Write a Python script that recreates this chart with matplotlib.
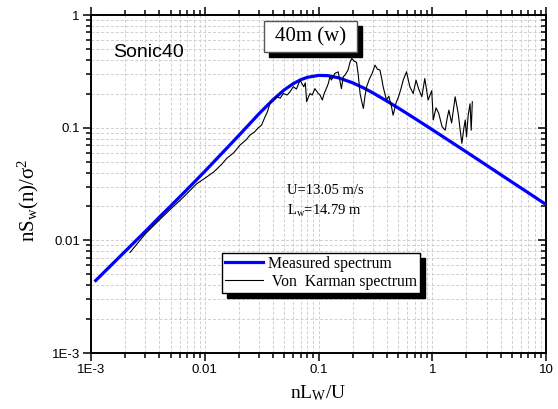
import numpy as np
import matplotlib
matplotlib.use("Agg")
import matplotlib.pyplot as plt
from matplotlib.patches import Rectangle
from matplotlib.ticker import FixedLocator, NullFormatter

# smooth (blue) spectrum
blue_x = [0.0011, 0.0015, 0.002, 0.003, 0.004, 0.005, 0.007, 0.01, 0.02, 0.03,
          0.04, 0.05, 0.06, 0.07, 0.08, 0.1, 0.12, 0.15, 0.2, 0.25, 0.3, 0.4,
          0.5, 0.7, 1.0, 1.5, 2.0, 3.0, 5.0, 7.0, 10.0]
blue_y = [0.0044, 0.0060, 0.0080, 0.0120, 0.0161, 0.0201, 0.0283, 0.0409, 0.0856, 0.133,
          0.178, 0.2165, 0.246, 0.267, 0.280, 0.291, 0.290, 0.277, 0.250, 0.225, 0.204, 0.172,
          0.150, 0.121, 0.096, 0.0735, 0.0608, 0.0464, 0.0330, 0.0264, 0.0208]

# noisy (black) spectrum
black_x = [0.0022, 0.0030, 0.0040, 0.0050, 0.0065, 0.0085, 0.0100, 0.0120, 0.0140, 0.0156,
           0.0180, 0.0204, 0.0230, 0.0250, 0.0275, 0.0296, 0.0315, 0.0339, 0.0355, 0.0375,
           0.0400, 0.0429, 0.0460, 0.0491, 0.0530, 0.0561, 0.0600, 0.0640, 0.0687, 0.0742,
           0.0765, 0.0787, 0.0820, 0.0844, 0.0880, 0.0930, 0.0995, 0.1030, 0.1080, 0.1120,
           0.1190, 0.1220, 0.1260, 0.1300, 0.1390, 0.1490, 0.1590, 0.1650, 0.1710, 0.1820,
           0.1890, 0.1960, 0.2050, 0.2160, 0.2240, 0.2320, 0.2400, 0.2480, 0.2560, 0.2650,
           0.2800, 0.2950, 0.3140, 0.3300, 0.3470, 0.3600, 0.3700, 0.3960, 0.4150, 0.4380,
           0.4530, 0.4800, 0.5050, 0.5300, 0.5550, 0.5940, 0.6350, 0.6800, 0.7200, 0.7600,
           0.8100, 0.8600, 0.9200, 0.9900, 1.0200, 1.0800, 1.1400, 1.2200, 1.3000, 1.3500,
           1.4000, 1.4800, 1.5900, 1.6900, 1.7500, 1.8200, 1.9000, 1.9500, 2.0000, 2.0700,
           2.1500, 2.2000, 2.2500]
black_y = [0.0078, 0.0114, 0.0152, 0.0189, 0.0242, 0.0318, 0.0355, 0.0405, 0.0470, 0.0534,
           0.0600, 0.0700, 0.0777, 0.0860, 0.0920, 0.1000, 0.1050, 0.1250, 0.1380, 0.1650,
           0.1720, 0.1880, 0.1830, 0.2010, 0.1950, 0.2080, 0.2310, 0.2200, 0.2640, 0.2310,
           0.2500, 0.1700, 0.1900, 0.2010, 0.1950, 0.2220, 0.2010, 0.1950, 0.1760, 0.2000,
           0.2310, 0.2470, 0.2830, 0.2650, 0.3030, 0.3130, 0.2220, 0.2830, 0.2930, 0.3250,
           0.3800, 0.4120, 0.3900, 0.3800, 0.2900, 0.2010, 0.1700, 0.1480, 0.1900, 0.2310,
           0.2700, 0.3000, 0.3590, 0.3300, 0.3250, 0.2700, 0.2310, 0.1760, 0.1900, 0.1540,
           0.1290, 0.1650, 0.1880, 0.2200, 0.2640, 0.3130, 0.2310, 0.2010, 0.2640, 0.2200,
           0.1880, 0.2730, 0.1760, 0.2130, 0.1170, 0.1500, 0.1340, 0.1020, 0.0950, 0.1200,
           0.1430, 0.1100, 0.1880, 0.1340, 0.1000, 0.0726, 0.1000, 0.1170, 0.0830, 0.1300,
           0.1630, 0.0950, 0.1700]

x_ticks = [1e-3, 1e-2, 1e-1, 1, 10]
x_ticklabels = ["1E-3", "0.01", "0.1", "1", "10"]
y_ticks = [1e-3, 1e-2, 1e-1, 1]
y_ticklabels = ["1E-3", "0.01", "0.1", "1"]

SERIF = "Liberation Serif"
SANS = "Liberation Sans"
plt.rcParams['mathtext.default'] = 'regular'

fig = plt.figure(figsize=(5.58, 4.09), dpi=100)
ax = fig.add_axes([0.1631, 0.1369, 0.8154, 0.8264])

ax.plot(blue_x, blue_y, color="#0000ff", lw=2.3, label="Measured spectrum", zorder=3)
ax.plot(black_x, black_y, color="k", lw=0.8, label=" Von  Karman spectrum", zorder=4)

ax.set_xscale("log")
ax.set_yscale("log")
ax.set_xlim(1e-3, 10)
ax.set_ylim(1e-3, 1)

ax.xaxis.set_major_locator(FixedLocator(x_ticks))
ax.set_xticklabels(x_ticklabels, fontfamily=SANS, fontsize=9.5)
ax.yaxis.set_major_locator(FixedLocator(y_ticks))
ax.set_yticklabels(y_ticklabels, fontfamily=SANS, fontsize=9.5)
minors_x = [m * 10.0 ** e for e in range(-3, 1) for m in range(2, 10)]
minors_y = [m * 10.0 ** e for e in range(-3, 0) for m in range(2, 10)]
ax.xaxis.set_minor_locator(FixedLocator(minors_x))
ax.yaxis.set_minor_locator(FixedLocator(minors_y))
ax.xaxis.set_minor_formatter(NullFormatter())
ax.yaxis.set_minor_formatter(NullFormatter())

ax.grid(which="both", ls=(0, (3, 2)), color="#cfcfcf", lw=0.7)
ax.set_axisbelow(True)

for s in ax.spines.values():
    s.set_linewidth(1.4)
ax.tick_params(which="both", top=True, direction="out", width=1.1, pad=2)
ax.tick_params(which="major", length=6)
ax.tick_params(which="minor", length=3.5)
ax.tick_params(which="both", right=True, labelright=False)

# right axis ticks point inward
for t in ax.yaxis.get_major_ticks() + ax.yaxis.get_minor_ticks():
    t.tick2line.set_marker(matplotlib.lines.TICKLEFT)

fig.text(318 / 558, 1 - 393 / 409, r"nL$_{W}$/U", fontfamily=SERIF, fontsize=14,
         ha="center", va="center")
fig.text(28 / 558, 1 - 200 / 409, r"nS$_{w}$(n)/$\sigma^{2}$", fontfamily=SERIF,
         fontsize=15, ha="center", va="center", rotation=90)

ax.text(0.048, 0.89, "Sonic40", transform=ax.transAxes, fontfamily=SANS,
        fontsize=14, ha="left", va="center")

ax.text(0.431, 0.482, "U=13.05 m/s", transform=ax.transAxes, fontfamily=SERIF,
        fontsize=10.5, ha="left", va="center")
ax.text(0.431, 0.42, r"L$_{w}$=14.79 m", transform=ax.transAxes, fontfamily=SERIF,
        fontsize=10.5, ha="left", va="center")

# title box with black drop shadow
bx0, by0, bw, bh = 0.380, 0.891, 0.205, 0.091
ax.add_patch(Rectangle((bx0 + 0.011, by0 - 0.015), bw, bh, transform=ax.transAxes,
                       facecolor="k", edgecolor="k", zorder=6, clip_on=False))
ax.add_patch(Rectangle((bx0, by0), bw, bh, transform=ax.transAxes,
                       facecolor="white", edgecolor="#555555", lw=1.0, zorder=7,
                       clip_on=False))
ax.text(bx0 + bw / 2, by0 + bh / 2, "40m (w)", transform=ax.transAxes,
        fontfamily=SERIF, fontsize=15, ha="center", va="center", zorder=8)

leg = ax.legend(loc="lower left", bbox_to_anchor=(0.288, 0.178), borderaxespad=0,
                fancybox=False, edgecolor="k", framealpha=1,
                prop={"family": SERIF, "size": 11.3}, handlelength=2.4,
                handletextpad=0.3, borderpad=0.2, labelspacing=0.12)
leg.get_frame().set_linewidth(1.0)
leg.set_zorder(9)

# black drop shadow behind the legend
fig.canvas.draw()
bb = leg.get_window_extent().transformed(ax.transAxes.inverted())
ax.add_patch(Rectangle((bb.x0 + 0.011, bb.y0 - 0.015), bb.width, bb.height,
                       transform=ax.transAxes, facecolor="k", edgecolor="k",
                       zorder=8.5))

fig.savefig("out.png", dpi=100)
